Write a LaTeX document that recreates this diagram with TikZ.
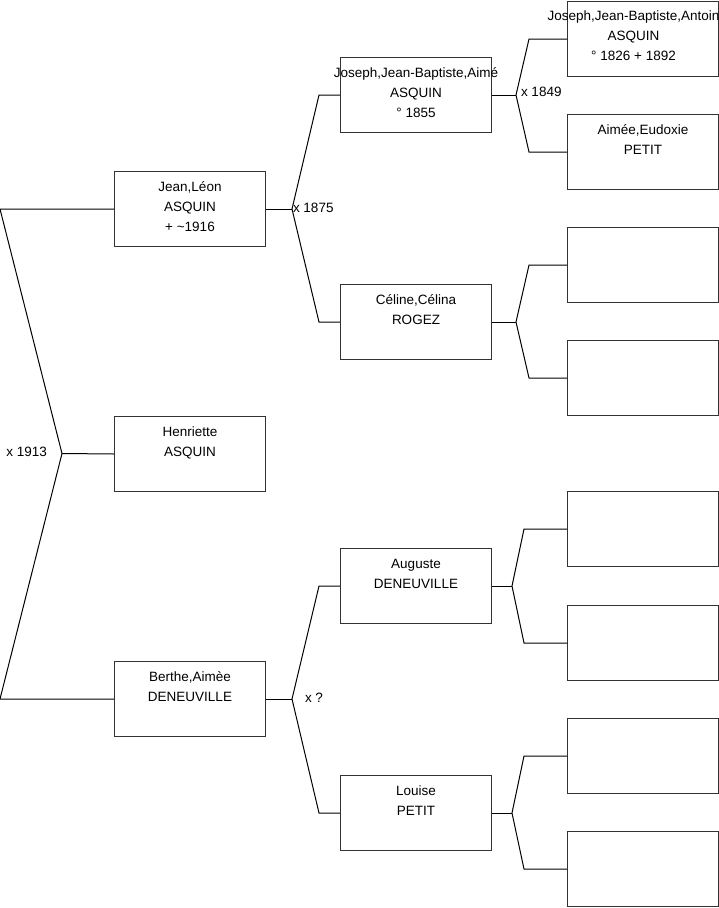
\documentclass[tikz,border=0pt]{standalone}
\usepackage{fontspec}
\setmainfont{Liberation Sans}
\usetikzlibrary{positioning}

\tikzset{
  person/.style={draw=black!80, minimum width=151pt, minimum height=75pt, inner sep=0pt, anchor=north west},
  who/.style={align=center, inner sep=0pt, outer sep=0pt, font=\fontsize{13.5}{20}\selectfont},
  wed/.style={inner sep=0pt, outer sep=0pt, font=\fontsize{13.5}{20}\selectfont},
}

\begin{document}
\begin{tikzpicture}[x=1pt,y=-1pt,line width=1pt]
    \useasboundingbox (0,0) rectangle (719,908);
    \coordinate (edge) at (0,0);

    % children generation
    \node[person] (jean) at (114,171) {};
    \node[person] (henriette) at (114,416) {};
    \node[person] (berthe) at (114,661) {};

    % parents
    \node[person] (joseph) at (340,57) {};
    \node[person] (celine) at (340,284) {};
    \node[person] (auguste) at (340,548) {};
    \node[person] (louise) at (340,775) {};

    % grand parents
    \node[person] (josephA) at (567,1) {};
    \node[person] (aimee) at (567,114) {};
    \node[person] (celineF) at (567,227) {};
    \node[person] (celineM) at (567,340) {};
    \node[person] (augusteF) at (567,491) {};
    \node[person] (augusteM) at (567,605) {};
    \node[person] (louiseF) at (567,718) {};
    \node[person] (louiseM) at (567,831) {};

    % names
    \node[who, below=6.5pt of jean.north] (jeanT) {\strut Jean,Léon\\ASQUIN\\ + \textasciitilde1916};
    \node[who, below=6.5pt of henriette.north] (henrietteT) {\strut Henriette\\ASQUIN};
    \node[who, below=6.5pt of berthe.north] (bertheT) {\strut Berthe,Aimèe\\DENEUVILLE};
    \node[who, below=6.5pt of joseph.north] (josephT) {\strut Joseph,Jean-Baptiste,Aimé\\ASQUIN\\° 1855};
    \node[who, below=6.5pt of celine.north] (celineT) {\strut Céline,Célina\\ROGEZ};
    \node[who, below=6.5pt of auguste.north] (augusteT) {\strut Auguste\\DENEUVILLE};
    \node[who, below=6.5pt of louise.north] (louiseT) {\strut Louise\\PETIT};
    \node[who, below=5pt of josephA.north, xshift=-9.5pt] (josephAT) {\strut Joseph,Jean-Baptiste,Antoin\\ASQUIN\\° 1826 + 1892};
    \node[who, below=6.5pt of aimee.north] (aimeeT) {\strut Aimée,Eudoxie\\PETIT};

    % forks
    \coordinate (m0) at (62,453.5);
    \draw (jean.west) -- (jean.west -| edge) -- (m0) -- (berthe.west -| edge) -- (berthe.west);
    \draw (m0) -- (henriette.west);
    \node[wed, left=15pt of m0, yshift=2pt] (w0) {x 1913};

    \draw (jean.east) -- ++(26,0) coordinate (m1);
    \draw (joseph.west) -- ++(-21,0) -- (m1) -- ([xshift=-21pt]celine.west) -- (celine.west);
    \node[wed, right=1pt of m1, yshift=1.5pt] (w1) {x 1875};

    \draw (joseph.east) -- ++(24,0) coordinate (m2);
    \draw (josephA.west) -- ++(-38,0) -- (m2) -- ([xshift=-38pt]aimee.west) -- (aimee.west);
    \node[wed, right=5pt of m2, yshift=3pt] (w2) {x 1849};

    \draw (celine.east) -- ++(24,0) coordinate (m3);
    \draw (celineF.west) -- ++(-38,0) -- (m3) -- ([xshift=-38pt]celineM.west) -- (celineM.west);

    \draw (berthe.east) -- ++(26,0) coordinate (m4);
    \draw (auguste.west) -- ++(-21,0) -- (m4) -- ([xshift=-21pt]louise.west) -- (louise.west);
    \node[wed, right=13pt of m4, yshift=1pt] (w4) {x ?};

    \draw (auguste.east) -- ++(20,0) coordinate (m5);
    \draw (augusteF.west) -- ++(-43,0) -- (m5) -- ([xshift=-43pt]augusteM.west) -- (augusteM.west);

    \draw (louise.east) -- ++(20,0) coordinate (m6);
    \draw (louiseF.west) -- ++(-43,0) -- (m6) -- ([xshift=-43pt]louiseM.west) -- (louiseM.west);
\end{tikzpicture}
\end{document}
